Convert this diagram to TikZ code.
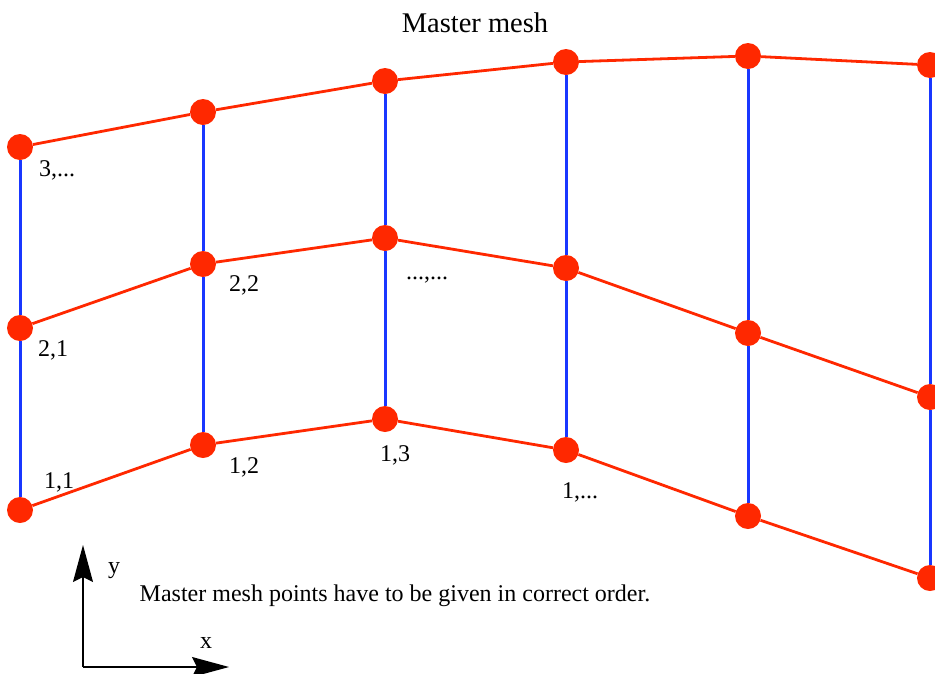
\documentclass[tikz,border=0pt]{standalone}
\usepackage{fontspec}
\setmainfont{Liberation Serif}
\usetikzlibrary{arrows.meta}
\definecolor{meshred}{RGB}{255,40,0}
\definecolor{meshblue}{RGB}{25,55,255}
\tikzset{
  dot/.style={circle,fill=meshred,draw=none,minimum size=26pt,inner sep=0pt},
  rowline/.style={draw=meshred,line width=2.8pt},
  colline/.style={draw=meshblue,line width=3pt},
  lbl/.style={font=\fontsize{24}{27}\selectfont,inner sep=0pt},
  axis/.style={draw=black,line width=1.4pt,-{Stealth[length=37pt,width=20pt,inset=5pt]}}
}
\begin{document}
\begin{tikzpicture}[x=1pt,y=-1pt]
\useasboundingbox (0,0) rectangle (935,673);
\clip (0,0) rectangle (935,673);
% dots
\foreach \c/\x/\ya/\yb/\yc in {1/20/510/328/147, 2/203/445/264/112, 3/385/419/238/81, 4/566/450/268/62, 5/748/516/333/56, 6/930/578/397/65}{
  \node[dot] (p1\c) at (\x,\ya) {};
  \node[dot] (p2\c) at (\x,\yb) {};
  \node[dot] (p3\c) at (\x,\yc) {};
}
% vertical blue lines
\foreach \c in {1,...,6}{
  \draw[colline] (p1\c) -- (p2\c);
  \draw[colline] (p2\c) -- (p3\c);
}
% red row lines
\foreach \r in {1,2,3}{
  \foreach \c/\d in {1/2,2/3,3/4,4/5,5/6}{
    \draw[rowline] (p\r\c) -- (p\r\d);
  }
}
% labels
\node[lbl] (l31) at (57,170) {3,...};
\node[lbl] (l21) at (53,350) {2,1};
\node[lbl] (l11) at (59,482) {1,1};
\node[lbl] (l22) at (244,285) {2,2};
\node[lbl] (l12) at (244,467) {1,2};
\node[lbl] (l13) at (395,455) {1,3};
\node[lbl] (ldd) at (427,280) {...,...};
\node[lbl] (l14) at (580,492) {1,...};
\node[font=\fontsize{28.5}{32}\selectfont,inner sep=0pt] (title) at (475,23) {Master mesh};
\node[lbl] (note) at (395,596) {Master mesh points have to be given in correct order.};
% axes
\coordinate (o) at (83,667);
\coordinate (ytip) at (83,545);
\coordinate (xtip) at (229,667);
\draw[axis] (o) -- (ytip);
\draw[axis] (o) -- (xtip);
\node[lbl] (ylab) at (114,571) {y};
\node[lbl] (xlab) at (206,643) {x};
\end{tikzpicture}
\end{document}
